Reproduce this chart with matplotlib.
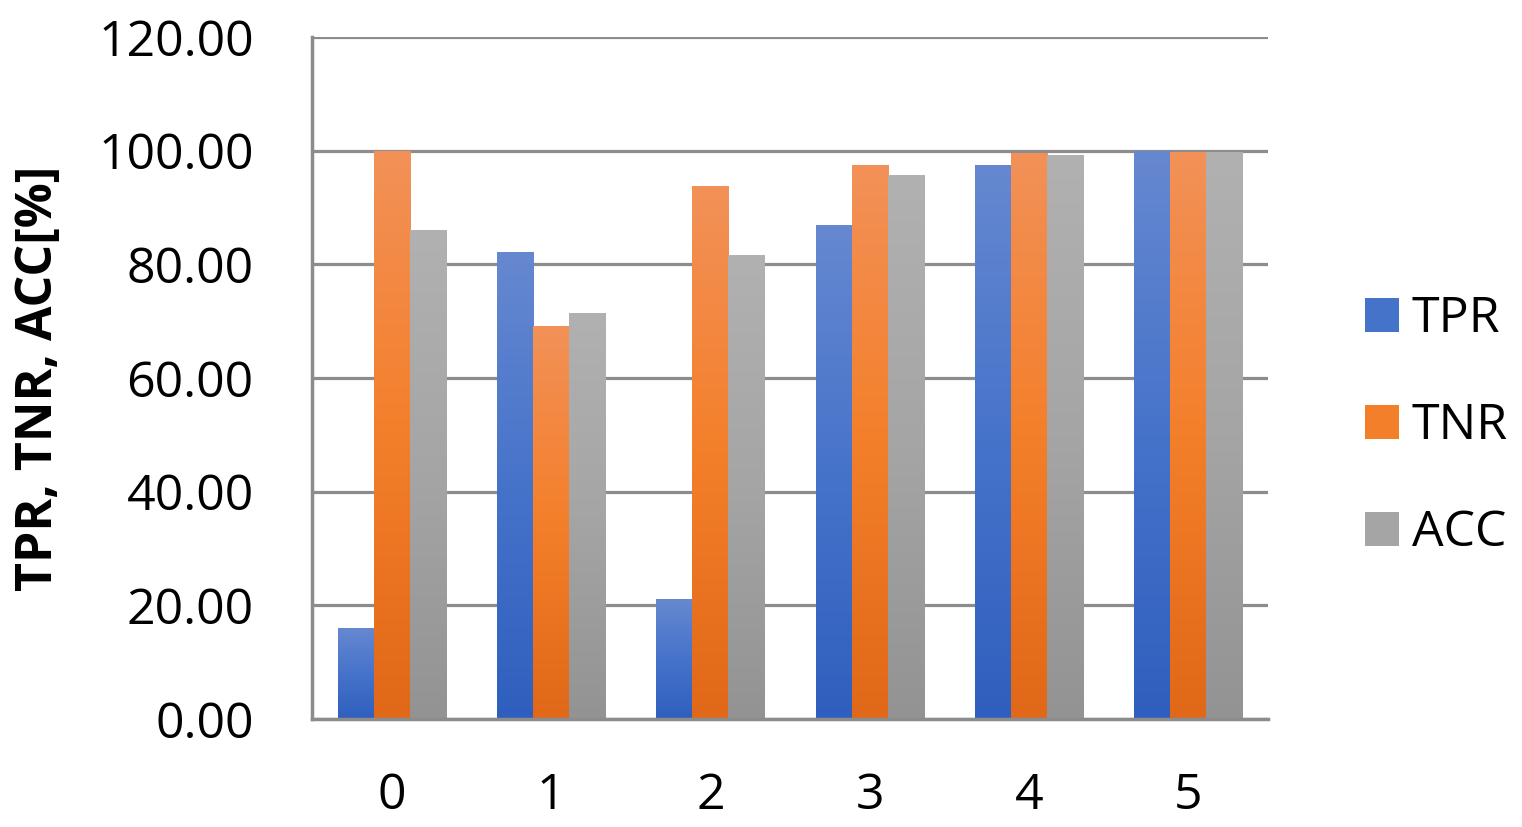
import matplotlib
matplotlib.use("Agg")
import matplotlib.pyplot as plt
import numpy as np
from matplotlib.colors import LinearSegmentedColormap
from matplotlib.patches import Patch

categories = ["0", "1", "2", "3", "4", "5"]
tpr = [16.0, 82.1, 21.1, 86.9, 97.5, 100.0]
tnr = [100.0, 69.2, 93.7, 97.4, 99.6, 99.8]
acc = [86.0, 71.4, 81.6, 95.7, 99.2, 99.8]
series_names = ["TPR", "TNR", "ACC"]
yticks = [0, 20, 40, 60, 80, 100, 120]

grads = {
    "TPR": ["#2F5FBE", "#4673CA", "#6688D0"],
    "TNR": ["#E06818", "#F47F2A", "#F29158"],
    "ACC": ["#939393", "#A5A5A5", "#B1B1B1"],
}

plt.rcParams['font.family'] = ['Open Sans', 'DejaVu Sans']

fig = plt.figure(figsize=(15.22, 8.27), dpi=100)
ax = fig.add_axes([312/1522, 108/827, (1268-312)/1522, (790-108)/827])

x = np.arange(len(categories))
w = 0.226
grad = np.linspace(0, 1, 256).reshape(-1, 1)
for i, (name, vals) in enumerate(zip(series_names, [tpr, tnr, acc])):
    cmap = LinearSegmentedColormap.from_list(name, grads[name])
    bars = ax.bar(x + (i - 1) * w, vals, width=w, color=grads[name][1], zorder=2, linewidth=0)
    for b in bars:
        b.set_facecolor("none")
        x0, y0 = b.get_x(), b.get_y()
        im = ax.imshow(grad, cmap=cmap, origin="lower", aspect="auto",
                       extent=[x0, x0 + b.get_width(), y0, y0 + b.get_height()], zorder=2)
        im.set_clip_path(b)

ax.set_xlim(-0.5, 5.5)
ax.set_ylim(0, 120)
ax.set_yticks(yticks)
ax.set_yticklabels([f"{v:.2f}" for v in yticks])
ax.set_xticks(x)
ax.set_xticklabels(categories)
ax.yaxis.grid(True, color="#8C8C8C", linewidth=2.3, zorder=1)
ax.set_axisbelow(True)
for s in ["top", "right"]:
    ax.spines[s].set_visible(False)
for s in ["left", "bottom"]:
    ax.spines[s].set_color("#8C8C8C")
    ax.spines[s].set_linewidth(2.5)
    ax.spines[s].set_zorder(3)
ax.tick_params(axis="both", length=0, labelsize=36, colors="black")
ax.tick_params(axis="y", pad=42)
ax.tick_params(axis="x", pad=38)

ax.set_ylabel("TPR, TNR, ACC[%]", fontsize=36, fontweight="bold")
ax.yaxis.set_label_coords((64 - 312) / 956, 0.5)

handles = [Patch(facecolor=grads[n][1], edgecolor="none") for n in series_names]
fig.legend(handles, series_names, loc="center left", bbox_to_anchor=(1345/1522, 0.484),
           frameon=False, fontsize=36, handlelength=0.68, handleheight=0.68,
           handletextpad=0.25, labelspacing=1.15, borderaxespad=0)

fig.savefig("out.png", dpi=100)
